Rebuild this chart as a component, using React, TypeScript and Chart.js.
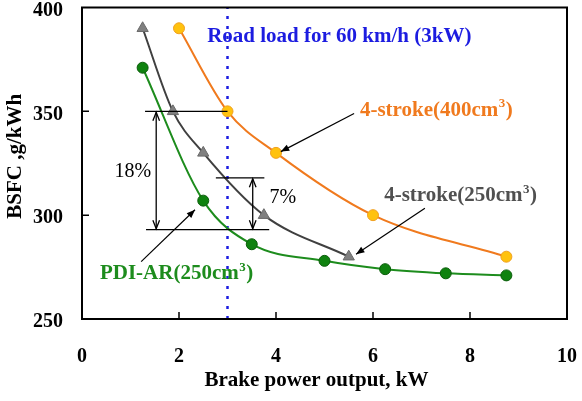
import React, { useEffect, useRef } from "react";
import { Chart, registerables } from "chart.js";

Chart.register(...registerables);

// ---- data ----
const xTicks = [0, 2, 4, 6, 8, 10];
const yTicks = [250, 300, 350, 400];
const stroke400X = [2, 3, 4, 6, 8.75];
const stroke400Y = [390, 350, 330, 300, 280];
const stroke250X = [1.25, 1.875, 2.5, 3.75, 5.5];
const stroke250Y = [390, 350, 330, 300, 280];
const pdiX = [1.25, 2.5, 3.5, 5, 6.25, 7.5, 8.75];
const pdiY = [371, 307, 286, 278, 274, 272, 271];
const roadLoadKW = 3;
const roadLoadLabel = "Road load for 60 km/h (3kW)";
const seriesNames = ["4-stroke(400cm", "4-stroke(250cm", "PDI-AR(250cm"];
const bracketLevels = [350, 318, 293];
const gapLabels = ["18%", "7%"];
const xTitle = "Brake power output, kW";
const yTitle = "BSFC ,g/kWh";

// ---- styles / annotation placement (data coordinates) ----
const FONT = '"Liberation Serif", "Times New Roman", serif';
const C_ORANGE_LINE = "#f07a1e";
const C_ORANGE_FILL = "#ffc20e";
const C_GRAY_LINE = "#404040";
const C_GRAY_FILL = "#808080";
const C_GREEN_LINE = "#1d8c1d";
const C_GREEN_FILL = "#0f820f";
const C_BLUE = "#1c1ce0";
const C_LABEL_GRAY = "#505050";

const NOTE = {
  road: { x: 2.58, y: 386.5 },
  orange: { x: 5.73, y: 351, arrowFrom: [5.61, 349], arrowTo: [4.1, 330.6] },
  gray: { x: 6.23, y: 310, arrowFrom: [7.07, 303.3], arrowTo: [5.65, 281.2] },
  green: { x: 0.37, y: 272.4, arrowFrom: [1.22, 277.6], arrowTo: [2.33, 302.6] },
  top: { x0: 1.3, x1: 3.0 },
  mid: { x0: 2.76, x1: 3.76 },
  bottom: { x0: 1.32, x1: 3.86 },
  arrow18: 1.53,
  arrow7: 3.52,
  text18: { x: 1.05, y: 321 },
  text7: { x: 4.14, y: 308.6 },
};
// axis-title placement: pixel offsets from the chart area
const TITLE_POS = { xTitleCenterShift: -8, xTitleY: 381, yTitleX: 16, yTitleCenterShift: -7 };

function supLabel(ctx: CanvasRenderingContext2D, text: string, x: number, cy: number, color: string, size: number) {
  const base = cy + size * 0.33;
  ctx.fillStyle = color;
  ctx.textAlign = "left";
  ctx.textBaseline = "alphabetic";
  ctx.font = `bold ${size}px ${FONT}`;
  ctx.fillText(text, x, base);
  let w = ctx.measureText(text).width;
  const ss = Math.round(size * 0.6);
  ctx.font = `bold ${ss}px ${FONT}`;
  ctx.fillText("3", x + w + 0.5, base - size * 0.42);
  w += ctx.measureText("3").width + 1;
  ctx.font = `bold ${size}px ${FONT}`;
  ctx.fillText(")", x + w, base);
}

function arrowHead(ctx: CanvasRenderingContext2D, fx: number, fy: number, tx: number, ty: number, len: number, open: boolean) {
  const ang = Math.atan2(ty - fy, tx - fx);
  const a1 = ang + Math.PI - 0.38;
  const a2 = ang + Math.PI + 0.38;
  ctx.beginPath();
  ctx.moveTo(tx + len * Math.cos(a1), ty + len * Math.sin(a1));
  ctx.lineTo(tx, ty);
  ctx.lineTo(tx + len * Math.cos(a2), ty + len * Math.sin(a2));
  if (open) {
    ctx.stroke();
  } else {
    ctx.closePath();
    ctx.fill();
  }
}

const overlay = {
  id: "overlay",
  afterDatasetsDraw(chart: any) {
    const { ctx, chartArea: a, scales } = chart;
    const X = (v: number) => scales.x.getPixelForValue(v);
    const Y = (v: number) => scales.y.getPixelForValue(v);
    ctx.save();
    // frame
    ctx.strokeStyle = "#000";
    ctx.lineWidth = 2;
    ctx.strokeRect(a.left, a.top, a.right - a.left, a.bottom - a.top);
    // inward ticks
    ctx.lineWidth = 1.5;
    ctx.beginPath();
    xTicks.slice(1, -1).forEach((v) => {
      ctx.moveTo(X(v), a.bottom);
      ctx.lineTo(X(v), a.bottom - 7);
    });
    yTicks.slice(1, -1).forEach((v) => {
      ctx.moveTo(a.left, Y(v));
      ctx.lineTo(a.left + 7, Y(v));
    });
    ctx.stroke();

    // bracket lines
    ctx.strokeStyle = "#000";
    ctx.lineWidth = 1.3;
    ctx.beginPath();
    ctx.moveTo(X(NOTE.top.x0), Y(bracketLevels[0]));
    ctx.lineTo(X(NOTE.top.x1), Y(bracketLevels[0]));
    ctx.moveTo(X(NOTE.mid.x0), Y(bracketLevels[1]));
    ctx.lineTo(X(NOTE.mid.x1), Y(bracketLevels[1]));
    ctx.moveTo(X(NOTE.bottom.x0), Y(bracketLevels[2]));
    ctx.lineTo(X(NOTE.bottom.x1), Y(bracketLevels[2]));
    ctx.stroke();

    // double arrows
    const dbl = (xv: number, y0: number, y1: number) => {
      const px = X(xv);
      const p0 = Y(y0) + 1;
      const p1 = Y(y1) - 1;
      ctx.beginPath();
      ctx.moveTo(px, p0);
      ctx.lineTo(px, p1);
      ctx.stroke();
      arrowHead(ctx, px, p1, px, p0, 9, true);
      arrowHead(ctx, px, p0, px, p1, 9, true);
    };
    dbl(NOTE.arrow18, bracketLevels[0], bracketLevels[2]);
    dbl(NOTE.arrow7, bracketLevels[1], bracketLevels[2]);

    // label arrows
    ctx.fillStyle = "#000";
    ctx.lineWidth = 1.2;
    [NOTE.orange, NOTE.gray, NOTE.green].forEach((n) => {
      const fx = X(n.arrowFrom[0]);
      const fy = Y(n.arrowFrom[1]);
      const tx = X(n.arrowTo[0]);
      const ty = Y(n.arrowTo[1]);
      ctx.beginPath();
      ctx.moveTo(fx, fy);
      ctx.lineTo(tx, ty);
      ctx.stroke();
      arrowHead(ctx, fx, fy, tx, ty, 9, false);
    });

    // percent texts
    ctx.fillStyle = "#000";
    ctx.font = `20px ${FONT}`;
    ctx.textAlign = "center";
    ctx.textBaseline = "middle";
    ctx.fillText(gapLabels[0], X(NOTE.text18.x), Y(NOTE.text18.y));
    ctx.fillText(gapLabels[1], X(NOTE.text7.x), Y(NOTE.text7.y));

    // road load text
    ctx.font = `bold 21px ${FONT}`;
    ctx.fillStyle = C_BLUE;
    ctx.textAlign = "left";
    ctx.textBaseline = "alphabetic";
    ctx.fillText(roadLoadLabel, X(NOTE.road.x), Y(NOTE.road.y) + 21 * 0.33);

    supLabel(ctx, seriesNames[0], X(NOTE.orange.x), Y(NOTE.orange.y), C_ORANGE_LINE, 21);
    supLabel(ctx, seriesNames[1], X(NOTE.gray.x), Y(NOTE.gray.y), C_LABEL_GRAY, 21);
    supLabel(ctx, seriesNames[2], X(NOTE.green.x), Y(NOTE.green.y), C_GREEN_LINE, 21);

    // axis titles
    ctx.fillStyle = "#000";
    ctx.font = `bold 21px ${FONT}`;
    ctx.textAlign = "center";
    ctx.textBaseline = "middle";
    ctx.fillText(xTitle, (a.left + a.right) / 2 + TITLE_POS.xTitleCenterShift, TITLE_POS.xTitleY);
    ctx.save();
    ctx.translate(TITLE_POS.yTitleX, (a.top + a.bottom) / 2 + TITLE_POS.yTitleCenterShift);
    ctx.rotate(-Math.PI / 2);
    ctx.fillText(yTitle, 0, 0);
    ctx.restore();
    ctx.restore();
  },
};

function pts(xs: number[], ys: number[]) {
  return xs.map((x, i) => ({ x, y: ys[i] }));
}

export default function App() {
  const ref = useRef<HTMLCanvasElement | null>(null);
  useEffect(() => {
    document.body.style.margin = "0";
    const canvas = ref.current;
    if (!canvas) return;
    const chart = new Chart(canvas, {
      type: "scatter",
      data: {
        datasets: [
          {
            label: "road",
            data: [
              { x: roadLoadKW, y: yTicks[0] },
              { x: roadLoadKW, y: yTicks[yTicks.length - 1] },
            ],
            showLine: true,
            borderColor: C_BLUE,
            borderWidth: 2.5,
            borderDash: [3, 7],
            pointRadius: 0,
            order: 10,
          },
          {
            label: seriesNames[2],
            data: pts(pdiX, pdiY),
            showLine: true,
            borderColor: C_GREEN_LINE,
            borderWidth: 2,
            cubicInterpolationMode: "monotone",
            pointRadius: 5.5,
            pointBackgroundColor: C_GREEN_FILL,
            pointBorderColor: "#0a5c0a",
            pointBorderWidth: 1,
            order: 3,
          },
          {
            label: seriesNames[1],
            data: pts(stroke250X, stroke250Y),
            showLine: true,
            borderColor: C_GRAY_LINE,
            borderWidth: 2,
            cubicInterpolationMode: "monotone",
            pointStyle: "triangle",
            pointRadius: 6.5,
            pointBackgroundColor: C_GRAY_FILL,
            pointBorderColor: "#6a6a6a",
            pointBorderWidth: 1,
            order: 2,
          },
          {
            label: seriesNames[0],
            data: pts(stroke400X, stroke400Y),
            showLine: true,
            borderColor: C_ORANGE_LINE,
            borderWidth: 2,
            cubicInterpolationMode: "monotone",
            pointRadius: 5.5,
            pointBackgroundColor: C_ORANGE_FILL,
            pointBorderColor: "#f0a020",
            pointBorderWidth: 1,
            order: 1,
          },
        ],
      },
      options: {
        responsive: false,
        animation: false,
        events: [],
        layout: { padding: { top: 5, right: 15, left: 0, bottom: 0 } },
        plugins: { legend: { display: false }, tooltip: { enabled: false } },
        scales: {
          x: {
            type: "linear",
            min: xTicks[0],
            max: xTicks[xTicks.length - 1],
            afterBuildTicks: (s: any) => {
              s.ticks = xTicks.map((v) => ({ value: v }));
            },
            afterFit: (s: any) => {
              s.height = 82;
              s.paddingLeft = 0;
              s.paddingRight = 0;
            },
            grid: { display: false, drawTicks: false },
            border: { display: false },
            ticks: {
              color: "#000",
              padding: 26,
              maxRotation: 0,
              font: { family: FONT, size: 20, weight: "bold" },
            },
            title: { display: false },
          },
          y: {
            type: "linear",
            min: yTicks[0],
            max: yTicks[yTicks.length - 1],
            afterBuildTicks: (s: any) => {
              s.ticks = yTicks.map((v) => ({ value: v }));
            },
            afterFit: (s: any) => {
              s.width = 82;
              s.paddingTop = 0;
              s.paddingBottom = 0;
            },
            grid: { display: false, drawTicks: false },
            border: { display: false },
            ticks: {
              color: "#000",
              padding: 19,
              labelOffset: 3,
              font: { family: FONT, size: 20, weight: "bold" },
            },
            title: { display: false },
          },
        },
      },
      plugins: [overlay],
    });
    return () => chart.destroy();
  }, []);
  return (
    <div style={{ position: "absolute", left: 0, top: 0, width: 582, height: 401 }}>
      <canvas ref={ref} width={582} height={401} />
    </div>
  );
}
